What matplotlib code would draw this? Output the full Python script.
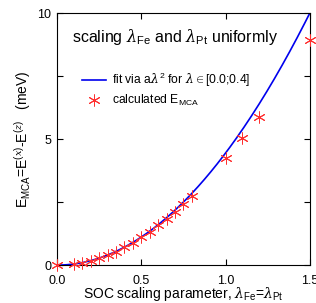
import numpy as np
import matplotlib
matplotlib.use('Agg')
from matplotlib import pyplot as plt

plt.rcParams['font.family'] = ['Liberation Sans', 'DejaVu Sans']
plt.rcParams['mathtext.fontset'] = 'custom'
plt.rcParams['mathtext.rm'] = 'Liberation Sans'
plt.rcParams['mathtext.it'] = 'DejaVu Serif:italic'

# calculated E_MCA (meV) vs SOC scaling parameter
lam = [0.0, 0.1, 0.15, 0.2, 0.25, 0.3, 0.35, 0.4, 0.45, 0.5,
       0.55, 0.6, 0.65, 0.7, 0.75, 0.8, 1.0, 1.1, 1.2, 1.5]
emca = [0.0, 0.04, 0.09, 0.17, 0.27, 0.39, 0.53, 0.70, 0.89, 1.11,
        1.31, 1.59, 1.83, 2.10, 2.42, 2.74, 4.24, 5.04, 5.87, 8.93]
fit_a = 4.45

fig = plt.figure(dpi=100, figsize=(3.16, 3.03))
ax = fig.add_axes([0.180, 0.125, 0.801, 0.832])

xf = np.linspace(0, 1.5, 200)
ax.plot(xf, fit_a * xf**2, color='#0000ee', lw=1.2,
        label=r'fit via a$\lambda^2$ for $\lambda\in$[0.0;0.4]')
ax.plot(lam, emca, ls='none', marker=(6, 2, 0), ms=8.5, mew=0.7,
        color='#ff3030', label=r'calculated E$_{\rm MCA}$', clip_on=False, zorder=3)

ax.set_xlim(0, 1.5)
ax.set_ylim(0, 10)
ax.set_xticks([0, 0.5, 1.0, 1.5])
ax.set_xticklabels(['0.0', '0.5', '1.0', '1.5'])
ax.set_yticks([0, 2.5, 5, 7.5, 10])
ax.set_yticklabels(['0', '', '5', '', '10'])
ax.tick_params(direction='in', top=True, right=True, length=4, labelsize=9)
ax.tick_params(axis='x', pad=7)
ax.tick_params(axis='y', pad=4)

ax.set_xlabel(r'SOC scaling parameter, $\lambda_{\rm Fe}$=$\lambda_{\rm Pt}$', fontsize=10, labelpad=-1)
ax.set_ylabel(r'E$_{\rm MCA}$=E$^{(x)}$-E$^{(z)}$   (meV)', fontsize=10, labelpad=3)

ax.text(0.06, 0.905, r'scaling $\lambda_{\rm Fe}$ and $\lambda_{\rm Pt}$ uniformly',
        transform=ax.transAxes, fontsize=11.5, va='center')

ax.legend(loc='upper left', bbox_to_anchor=(0.08, 0.79), frameon=False,
          fontsize=8.7, handlelength=2.0, handletextpad=0.5, labelspacing=0.35,
          borderaxespad=0)

plt.savefig('out.png')
